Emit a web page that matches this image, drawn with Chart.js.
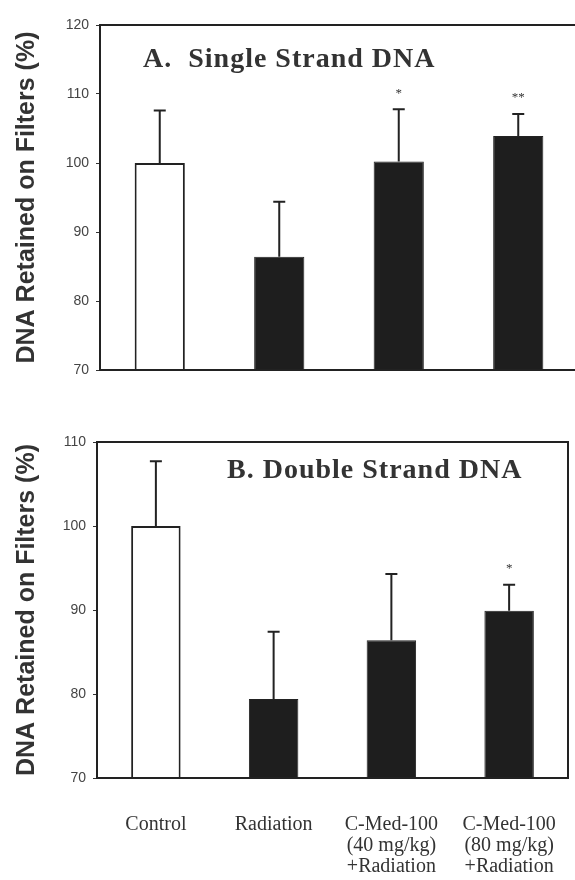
<!DOCTYPE html>
<html>
<head>
<meta charset="utf-8">
<script src="https://cdn.jsdelivr.net/npm/chart.js@4.4.1/dist/chart.umd.min.js"></script>
<style>
    html, body { margin: 0; padding: 0; background: #fff; overflow: hidden; }
    #wrapA { position: absolute; left: 0; top: 0; width: 575px; height: 400px; overflow: hidden; }
    #wrapB { position: absolute; left: 0; top: 420px; width: 575px; height: 460px; }
</style>
</head>
<body>
<div id="wrapA"><canvas id="chartA" width="590" height="400"></canvas></div>
<div id="wrapB"><canvas id="chartB" width="575" height="460"></canvas></div>
<script>
// Data
const categories = ['Control', 'Radiation', ['C-Med-100', '(40 mg/kg)', '+Radiation'], ['C-Med-100', '(80 mg/kg)', '+Radiation']];
const singleStrandMean = [100, 86.4, 100.2, 103.9];
const singleStrandErr = [7.6, 8.0, 7.6, 3.2];
const singleStrandStars = ['', '', '*', '**'];
const doubleStrandMean = [100, 79.4, 86.4, 89.9];
const doubleStrandErr = [7.7, 8.0, 7.9, 3.1];
const doubleStrandStars = ['', '', '', '*'];
const yTicksA = [70, 120];
const yTicksB = [70, 110];
const yTitle = 'DNA Retained on Filters (%)';

const ink = '#222';

// Frame around the plot area
const framePlugin = {
    id: 'frame',
    afterDraw(chart) {
        const { ctx, chartArea: a } = chart;
        ctx.save();
        ctx.strokeStyle = ink;
        ctx.lineWidth = 2;
        ctx.strokeRect(a.left, a.top, a.right - a.left, a.bottom - a.top);
        ctx.restore();
    }
};

// Error bars (upper half only) plus significance stars
const errorBarPlugin = {
    id: 'errorBars',
    afterDatasetsDraw(chart, args, opts) {
        const { ctx, scales: { x, y } } = chart;
        const data = chart.data.datasets[0].data;
        ctx.save();
        ctx.strokeStyle = ink;
        ctx.lineWidth = 2;
        data.forEach((v, i) => {
            const px = x.getPixelForValue(i);
            const yTop = y.getPixelForValue(v + opts.errors[i]);
            const yBase = y.getPixelForValue(v);
            ctx.beginPath();
            ctx.moveTo(px, yBase);
            ctx.lineTo(px, yTop);
            ctx.moveTo(px - 6, yTop);
            ctx.lineTo(px + 6, yTop);
            ctx.stroke();
            if (opts.stars[i]) {
                ctx.fillStyle = '#333';
                ctx.font = '13px "Liberation Serif"';
                ctx.textAlign = 'center';
                ctx.textBaseline = 'middle';
                ctx.fillText(opts.stars[i], px, yTop - 16);
            }
        });
        ctx.restore();
    }
};

// Panel caption inside the plot area
const captionPlugin = {
    id: 'caption',
    afterDraw(chart, args, opts) {
        const { ctx, chartArea: a } = chart;
        ctx.save();
        ctx.fillStyle = '#333';
        ctx.font = 'bold 28px "Liberation Serif"';
        ctx.letterSpacing = '1px';
        ctx.textAlign = 'left';
        ctx.textBaseline = 'alphabetic';
        ctx.fillText(opts.text, a.left + opts.dx, a.top + opts.dy);
        ctx.restore();
    }
};

function createPanel(canvas, cfg) {
    return new Chart(canvas, {
        type: 'bar',
        data: {
            labels: categories,
            datasets: [{
                data: cfg.values,
                backgroundColor: ['#ffffff', '#1e1e1e', '#1e1e1e', '#1e1e1e'],
                borderColor: ink,
                borderWidth: [2, 1, 1, 1],
                borderSkipped: false,
                categoryPercentage: 1,
                barPercentage: 0.42
            }]
        },
        options: {
            responsive: false,
            animation: false,
            layout: { padding: cfg.padding },
            plugins: {
                legend: { display: false },
                tooltip: { enabled: false },
                errorBars: { errors: cfg.errors, stars: cfg.stars },
                caption: cfg.caption
            },
            scales: {
                x: {
                    grid: { display: false, drawTicks: true, tickLength: 36 },
                    border: { display: false },
                    ticks: {
                        display: cfg.showLabels,
                        color: '#333',
                        padding: 0,
                        maxRotation: 0,
                        autoSkip: false,
                        font: { family: "'Liberation Serif'", size: 20, lineHeight: '21px' }
                    },
                    afterFit(scale) {
                        scale.height = cfg.xHeight;
                        scale.paddingLeft = 0;
                        scale.paddingRight = 0;
                    }
                },
                y: {
                    min: cfg.yRange[0],
                    max: cfg.yRange[1],
                    grid: { drawOnChartArea: false, drawTicks: true, tickLength: 4, color: '#333' },
                    border: { display: false },
                    ticks: {
                        stepSize: 10,
                        color: '#444',
                        padding: 7,
                        font: { family: "'Liberation Sans'", size: 14 }
                    },
                    title: {
                        display: true,
                        text: yTitle,
                        color: '#333',
                        padding: { top: 12, bottom: 0 },
                        font: { family: "'Liberation Sans'", size: 25, weight: 'bold', lineHeight: 1.2 }
                    },
                    afterFit(scale) { scale.width = cfg.yWidth; }
                }
            }
        },
        plugins: [framePlugin, errorBarPlugin, captionPlugin]
    });
}

createPanel(document.getElementById('chartA'), {
    values: singleStrandMean,
    errors: singleStrandErr,
    stars: singleStrandStars,
    yRange: yTicksA,
    padding: { top: 25, right: 12, bottom: 0, left: 0 },
    xHeight: 30,
    yWidth: 100,
    showLabels: false,
    caption: { text: 'A.  Single Strand DNA', dx: 43, dy: 42 }
});

createPanel(document.getElementById('chartB'), {
    values: doubleStrandMean,
    errors: doubleStrandErr,
    stars: doubleStrandStars,
    yRange: yTicksB,
    padding: { top: 22, right: 7, bottom: 0, left: 0 },
    xHeight: 102,
    yWidth: 97,
    showLabels: true,
    caption: { text: 'B. Double Strand DNA', dx: 130, dy: 36 }
});
</script>
</body>
</html>
